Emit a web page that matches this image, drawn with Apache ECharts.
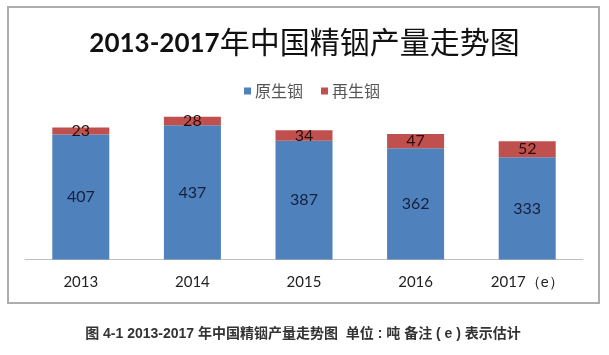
<!DOCTYPE html>
<html>
<head>
<meta charset="utf-8">
<script src="https://cdn.jsdelivr.net/npm/echarts@6/dist/echarts.min.js"></script>
<style>
html,body{margin:0;padding:0;background:#fff;}
#c{width:609px;height:355px;}
</style>
</head>
<body>
<div id="c"></div>
<script>
var categories = ['2013', '2014', '2015', '2016', '2017（e）'];
var primaryIndium = [407, 437, 387, 362, 333];
var recycledIndium = [23, 28, 34, 47, 52];
var seriesNames = ['原生铟', '再生铟'];
var titleYears = '2013-2017';
var titleRest = '年中国精铟产量走势图';
var captionText = '图 4-1 2013-2017 年中国精铟产量走势图  单位 : 吨 备注 ( e ) 表示估计';

var chart = echarts.init(document.getElementById('c'), null, {renderer: 'canvas'});
var option = {
  backgroundColor: '#fff',
  animation: false,
  title: {
    text: '{a|' + titleYears + '}{b|' + titleRest + '}',
    left: 'center',
    top: 22,
    textStyle: {
      rich: {
        a: {fontFamily: 'Lato', fontWeight: 'bold', fontSize: 26, color: '#111', verticalAlign: 'bottom'},
        b: {fontFamily: 'Noto Sans CJK SC', fontWeight: 400, fontSize: 30, color: '#111', verticalAlign: 'bottom'}
      }
    }
  },
  legend: {
    data: seriesNames,
    left: 239,
    top: 78,
    itemWidth: 7,
    itemHeight: 7,
    itemGap: 18,
    icon: 'rect',
    textStyle: {fontFamily: 'Noto Sans CJK SC', fontSize: 16, color: '#555', padding: [0, 0, 0, -1]}
  },
  grid: {left: 25, right: 26, top: 106, bottom: 95.5},
  xAxis: {
    type: 'category',
    data: categories,
    axisLine: {lineStyle: {color: '#bfbfbf', width: 1}},
    axisTick: {show: false},
    axisLabel: {fontFamily: 'Lato', fontSize: 15, color: '#222', margin: 15}
  },
  yAxis: {
    type: 'value',
    min: 0,
    max: 500,
    show: false,
    splitLine: {show: false}
  },
  series: [
    {
      name: seriesNames[0],
      type: 'bar',
      stack: 'total',
      barWidth: 57,
      data: primaryIndium,
      itemStyle: {color: '#4f81bd'},
      label: {show: true, position: 'inside', fontFamily: 'Lato', fontSize: 16, color: '#14203c'}
    },
    {
      name: seriesNames[1],
      type: 'bar',
      stack: 'total',
      barWidth: 57,
      data: recycledIndium,
      itemStyle: {color: '#c0504d'},
      label: {show: true, position: 'inside', fontFamily: 'Lato', fontSize: 16, color: '#2a0c0c'}
    }
  ],
  graphic: [
    {
      type: 'rect',
      shape: {x: 8, y: 7, width: 591, height: 296},
      style: {fill: 'none', stroke: '#adadad', lineWidth: 2},
      silent: true
    },
    {
      type: 'text',
      x: 303,
      y: 334.5,
      style: {
        text: captionText,
        fontFamily: 'Liberation Sans, Noto Sans CJK SC',
        fontWeight: 'bold',
        fontSize: 14,
        fill: '#333',
        textAlign: 'center',
        textVerticalAlign: 'middle'
      }
    }
  ]
};
chart.setOption(option);
</script>
</body>
</html>
